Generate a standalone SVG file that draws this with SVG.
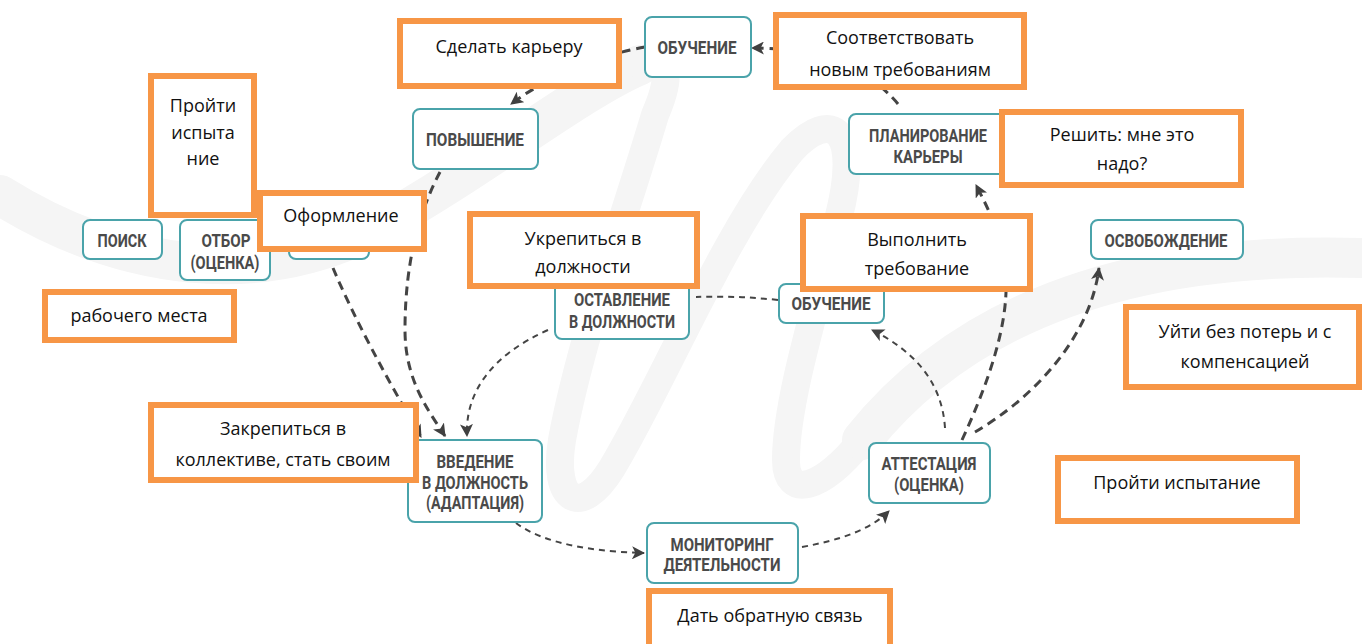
<svg xmlns="http://www.w3.org/2000/svg" width="1362" height="644" viewBox="0 0 1362 644">
<defs>
<style>
.wm{fill:none;stroke:#f5f5f5;stroke-linecap:round;stroke-linejoin:round}
.node rect{fill:#ffffff;stroke:#4aa3aa;stroke-width:2}
.node text{font-family:Roboto,"DejaVu Sans Condensed",sans-serif;font-weight:bold;font-size:18px;fill:#4a4a4a;text-anchor:middle}
.note rect{fill:#ffffff;stroke:#f79646;stroke-width:6}
.note text{font-family:"Open Sans","Noto Sans",sans-serif;font-size:18px;fill:#111111;text-anchor:middle}
.thick{fill:none;stroke:#444444;stroke-width:3;stroke-dasharray:9 6}
.thin{fill:none;stroke:#444444;stroke-width:2;stroke-dasharray:6 5}
</style>
<marker id="ah" viewBox="0 0 12 12" refX="11" refY="6" markerWidth="13" markerHeight="13" markerUnits="userSpaceOnUse" orient="auto">
<path d="M0,0 L12,6 L0,12 L3,6 z" fill="#404040"/>
</marker>
</defs>
<rect width="1362" height="644" fill="#ffffff"/>
<g id="watermark">
<path class="wm" stroke-width="40" d="M0,195 C120,270 260,290 380,225 C480,170 580,90 640,65"/>
<path class="wm" stroke-width="28" d="M640,65 C675,52 668,85 655,115 C630,200 580,340 562,440 C552,500 580,520 612,468 C665,380 725,230 792,150 C832,108 862,128 838,220 C818,300 786,400 786,460 C786,500 822,490 862,440"/>
<path class="wm" stroke-width="40" d="M862,440 C950,330 1100,250 1362,258"/>
</g>
<g id="connectors">
<path class="thick" d="M645,47 C600,55 550,75 511,104" marker-end="url(#ah)"/>
<path class="thick" d="M898,104 C870,70 820,48 752,48" marker-end="url(#ah)"/>
<path class="thick" d="M440,172 C420,210 405,260 405,330 C405,380 428,410 445,436" marker-end="url(#ah)"/>
<path class="thick" d="M333,268 C355,320 385,375 421,437" marker-end="url(#ah)"/>
<path class="thin" d="M548,330 C492,355 465,392 467,436" marker-end="url(#ah)"/>
<path class="thin" d="M778,300 C750,297 725,296 696,297"/>
<path class="thin" d="M945,428 C942,380 912,350 872,330" marker-end="url(#ah)"/>
<path class="thick" d="M962,440 C985,390 1008,330 1006,280 C1004,240 990,212 976,185" marker-end="url(#ah)"/>
<path class="thick" d="M975,432 C1030,400 1090,340 1099,268" marker-end="url(#ah)"/>
<path class="thin" d="M516,523 C545,545 600,552 644,553" marker-end="url(#ah)"/>
<path class="thin" d="M802,547 C840,540 870,530 889,511" marker-end="url(#ah)"/>
</g>
<g id="n-obuchenie-top" class="node"><rect x="645" y="17" width="106" height="60" rx="7"/><text x="697" y="54" textLength="79" lengthAdjust="spacingAndGlyphs">ОБУЧЕНИЕ</text></g>
<g id="n-povyshenie" class="node"><rect x="413" y="109" width="125" height="60" rx="7"/><text x="475" y="146" textLength="98" lengthAdjust="spacingAndGlyphs">ПОВЫШЕНИЕ</text></g>
<g id="n-planirovanie" class="node"><rect x="849" y="114" width="158" height="60" rx="7"/><text x="928" y="142" textLength="118" lengthAdjust="spacingAndGlyphs">ПЛАНИРОВАНИЕ</text><text x="928" y="163" textLength="69" lengthAdjust="spacingAndGlyphs">КАРЬЕРЫ</text></g>
<g id="n-poisk" class="node"><rect x="83" y="220" width="79" height="39" rx="7"/><text x="122" y="247" textLength="49" lengthAdjust="spacingAndGlyphs">ПОИСК</text></g>
<g id="n-otbor" class="node"><rect x="180" y="220" width="90" height="60" rx="7"/><text x="226" y="247" textLength="49" lengthAdjust="spacingAndGlyphs">ОТБОР</text><text x="225" y="269" textLength="69" lengthAdjust="spacingAndGlyphs">(ОЦЕНКА)</text></g>
<g id="n-hidden" class="node"><rect x="289" y="220" width="80" height="39" rx="7"/></g>
<g id="n-ostavlenie" class="node"><rect x="555" y="279" width="134" height="60" rx="7"/><text x="622" y="306" textLength="96" lengthAdjust="spacingAndGlyphs">ОСТАВЛЕНИЕ</text><text x="622" y="328" textLength="106" lengthAdjust="spacingAndGlyphs">В ДОЛЖНОСТИ</text></g>
<g id="n-obuchenie-mid" class="node"><rect x="779" y="284" width="105" height="39" rx="7"/><text x="831" y="310" textLength="79" lengthAdjust="spacingAndGlyphs">ОБУЧЕНИЕ</text></g>
<g id="n-osvobozhdenie" class="node"><rect x="1091" y="220" width="152" height="39" rx="7"/><text x="1166" y="247" textLength="123" lengthAdjust="spacingAndGlyphs">ОСВОБОЖДЕНИЕ</text></g>
<g id="n-vvedenie" class="node"><rect x="408" y="440" width="134" height="82" rx="7"/><text x="475" y="468" textLength="77" lengthAdjust="spacingAndGlyphs">ВВЕДЕНИЕ</text><text x="475" y="489" textLength="106" lengthAdjust="spacingAndGlyphs">В ДОЛЖНОСТЬ</text><text x="475" y="509" textLength="98" lengthAdjust="spacingAndGlyphs">(АДАПТАЦИЯ)</text></g>
<g id="n-monitoring" class="node"><rect x="647" y="523" width="151" height="60" rx="7"/><text x="722" y="551" textLength="103" lengthAdjust="spacingAndGlyphs">МОНИТОРИНГ</text><text x="722" y="571" textLength="117" lengthAdjust="spacingAndGlyphs">ДЕЯТЕЛЬНОСТИ</text></g>
<g id="n-attestaciya" class="node"><rect x="869" y="443" width="121" height="60" rx="7"/><text x="929" y="470" textLength="95" lengthAdjust="spacingAndGlyphs">АТТЕСТАЦИЯ</text><text x="929" y="491" textLength="70" lengthAdjust="spacingAndGlyphs">(ОЦЕНКА)</text></g>
<g id="a-proiti" class="note"><rect x="151" y="76" width="103" height="139"/><text x="203" y="112" font-size="14">Пройти</text><text x="203" y="139" font-size="14">испыта</text><text x="203" y="165" font-size="14">ние</text></g>
<g id="a-oformlenie" class="note"><rect x="260" y="193" width="164" height="56"/><text x="341" y="222">Оформление</text></g>
<g id="a-rabochego" class="note"><rect x="45" y="292" width="189" height="48"/><text x="139" y="322">рабочего места</text></g>
<g id="a-sdelat" class="note"><rect x="400" y="21" width="219" height="65"/><text x="509" y="53">Сделать карьеру</text></g>
<g id="a-sootvetstvovat" class="note"><rect x="776" y="15" width="248" height="72"/><text x="900" y="44">Соответствовать</text><text x="900" y="76">новым требованиям</text></g>
<g id="a-reshit" class="note"><rect x="1002" y="112" width="239" height="73"/><text x="1122" y="141">Решить: мне это</text><text x="1122" y="170">надо?</text></g>
<g id="a-ukrepitsya" class="note"><rect x="470" y="214" width="227" height="72"/><text x="583" y="245">Укрепиться в</text><text x="583" y="273">должности</text></g>
<g id="a-vypolnit" class="note"><rect x="803" y="216" width="227" height="73"/><text x="917" y="246">Выполнить</text><text x="917" y="275">требование</text></g>
<g id="a-uiti" class="note"><rect x="1126" y="307" width="233" height="80"/><text x="1245" y="338">Уйти без потерь и с</text><text x="1245" y="368">компенсацией</text></g>
<g id="a-zakrepitsya" class="note"><rect x="151" y="405" width="265" height="75"/><text x="283" y="435">Закрепиться в</text><text x="283" y="466">коллективе, стать своим</text></g>
<g id="a-proiti-ispytanie" class="note"><rect x="1058" y="458" width="239" height="63"/><text x="1177" y="489">Пройти испытание</text></g>
<g id="a-dat" class="note"><rect x="649" y="591" width="241" height="60"/><text x="770" y="622">Дать обратную связь</text></g>
</svg>
